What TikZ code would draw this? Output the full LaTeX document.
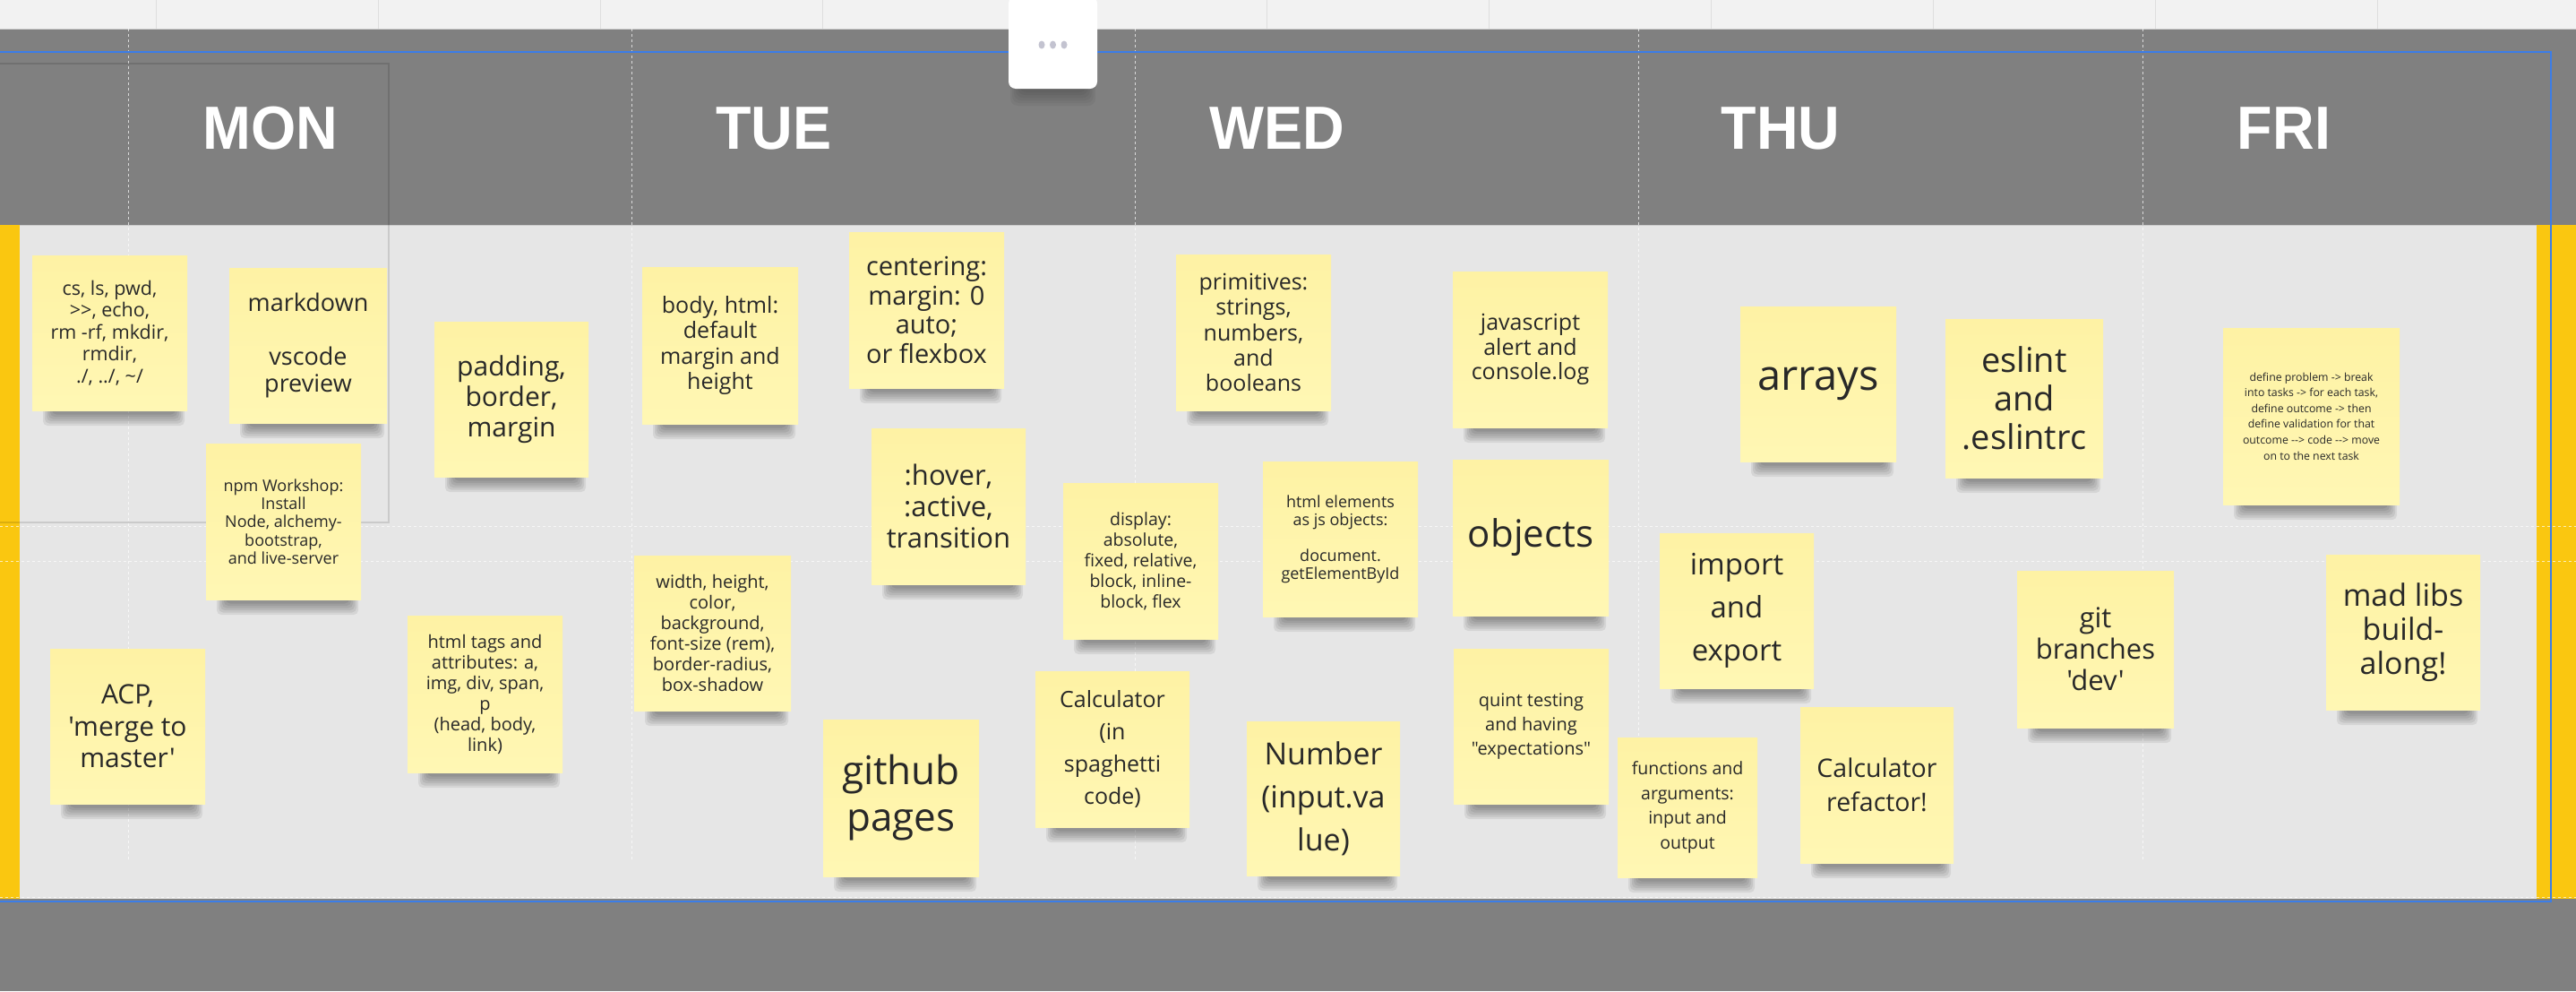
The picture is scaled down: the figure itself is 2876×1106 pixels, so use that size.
\documentclass[tikz,border=0pt]{standalone}
\usepackage{fontspec}
\setmainfont{Open Sans}
\newfontfamily\notefont{Open Sans}
\newfontfamily\dayfont[FakeStretch=0.95]{Liberation Sans}
\usetikzlibrary{calc}

\definecolor{headgray}{RGB}{128,128,128}
\definecolor{boardgray}{RGB}{230,230,230}
\definecolor{topgray}{RGB}{242,242,242}
\definecolor{gridgray}{RGB}{222,222,222}
\definecolor{edgegray}{RGB}{204,204,204}
\definecolor{laneyellow}{RGB}{250,199,16}
\definecolor{frameblue}{RGB}{59,125,232}
\definecolor{notefill}{RGB}{255,247,180}
\definecolor{notetop}{RGB}{254,242,164}
\definecolor{notetext}{RGB}{40,40,40}
\definecolor{dotgray}{RGB}{195,195,208}

\tikzstyle{sticky} = [rectangle, top color=notetop, bottom color=notefill,
    align=center, text=notetext, inner sep=4pt]
\tikzstyle{day} = [text=white, anchor=base,
    font=\dayfont\bfseries\fontsize{68}{68}\selectfont]
\tikzstyle{lane} = [white, dash pattern=on 3pt off 3pt, line width=0.8pt, opacity=0.7]

% name, left, top, width, height, font size, line skip, text
\newcommand{\stickynote}[8]{%
  \foreach \k in {0,...,5}
    \fill[black, opacity=0.07, rounded corners=5pt]
      (#2+12+2*\k,#3+#5-4) rectangle (#2+#4-3-2*\k,#3+#5+17-2.5*\k);
  \node[sticky, minimum width=#4pt, minimum height=#5pt,
    font=\notefont\fontsize{#6}{#7}\selectfont] (#1) at (#2+#4/2,#3+#5/2) {#8};
}

\begin{document}
\begin{tikzpicture}[x=1pt,y=-1pt]
    \useasboundingbox (0,0) rectangle (2876,1106);
    % Board
    \fill[topgray] (0,0) rectangle (2876,32);
    \foreach \x in {174,422,...,2654}
        \draw[gridgray, line width=1pt] (\x,0) -- (\x,32);
    \fill[headgray] (0,32) rectangle (2876,251);
    \fill[boardgray] (0,251) rectangle (2876,1003);
    \fill[headgray] (0,1003) rectangle (2876,1106);
    \draw[edgegray, line width=1pt] (0,32) -- (2876,32);
    \draw[edgegray, line width=1pt] (0,251) -- (2876,251);
    \fill[laneyellow] (0,251) rectangle (22,1003);
    \fill[laneyellow] (2832,251) rectangle (2876,1003);
    \foreach \x in {143,705,1267,1829,2392}
        \draw[lane] (\x,32) -- (\x,959);
    \foreach \y in {587,626,1001}
        \draw[lane] (0,\y) -- (2876,\y);
    \draw[black, opacity=0.12, line width=1.5pt] (-5,71) -| (434,583) -- (-5,583);
    \draw[frameblue, line width=2.2pt] (-5,58) -- (2848,58) -- (2848,1006) -- (-5,1006);

    % Day headers
    \node[day] (mon) at (302,166) {MON};
    \node[day] (tue) at (864,166) {TUE};
    \node[day] (wed) at (1426,166) {WED};
    \node[day] (thu) at (1988,166) {THU};
    \node[day] (fri) at (2550,166) {FRI};

    % Monday
    \stickynote{cmds}{36}{285}{173}{173}{21.5}{24.6}{cs, ls, pwd,\\>>, echo,\\rm -rf, mkdir,\\rmdir,\\./, ../, \textasciitilde/}
    \stickynote{markdown}{256}{299}{176}{173}{27}{30}{markdown\\[30pt]vscode\\preview}
    \stickynote{boxmodel}{485}{359}{172}{173}{30}{34}{padding,\\border,\\margin}
    \stickynote{npm}{230}{495}{173}{174}{18}{20.3}{npm Workshop:\\Install\\Node, alchemy-\\bootstrap,\\and live-server}
    \stickynote{acp}{56}{724}{173}{173}{30}{35.5}{ACP,\\'merge to\\master'}
    \stickynote{htmltags}{455}{687}{173}{175}{20}{23}{html tags and\\attributes: a,\\img, div, span,\\p\\(head, body,\\link)}
    % Tuesday
    \stickynote{bodyhtml}{717}{298}{174}{175}{25}{28.3}{body, html:\\default\\margin and\\height}
    \stickynote{centering}{948}{259}{173}{174}{29}{32.7}{centering:\\margin: 0\\auto;\\or flexbox}
    \stickynote{hover}{973}{478}{172}{174}{31}{35}{:hover,\\:active,\\transition}
    \stickynote{display}{1187}{539}{173}{174}{19.5}{23}{display:\\absolute,\\fixed, relative,\\block, inline-\\block, flex}
    \stickynote{props}{708}{620}{175}{173}{20}{23}{width, height,\\color,\\background,\\font-size (rem),\\border-radius,\\box-shadow}
    \stickynote{ghpages}{919}{803}{174}{175}{44}{52}{github\\pages}
    \stickynote{calcspag}{1156}{749}{172}{174}{25}{36}{Calculator\\(in\\spaghetti\\code)}
    % Wednesday
    \stickynote{primitives}{1313}{284}{173}{174}{25}{28.3}{primitives:\\strings,\\numbers,\\and\\booleans}
    \stickynote{jsalert}{1622}{303}{173}{174}{25}{27.5}{javascript\\alert and\\console.log}
    \stickynote{domobj}{1410}{515}{173}{173}{18}{20}{html elements\\as js objects:\\[20pt]document.\\getElementById}
    \stickynote{objects}{1622}{513}{174}{174}{42}{48}{objects}
    \stickynote{number}{1392}{805}{171}{172}{34}{48}{Number\\(input.va\\lue)}
    \stickynote{quint}{1623}{724}{173}{173}{20}{27}{quint testing\\and having\\"expectations"}
    % Thursday
    \stickynote{arrays}{1943}{342}{174}{173}{47}{52}{arrays}
    \stickynote{modules}{1853}{595}{172}{173}{33}{48}{import\\and\\export}
    \stickynote{functions}{1806}{823}{156}{156}{19.5}{27.5}{functions and\\arguments:\\input and\\output}
    \stickynote{calcref}{2010}{789}{171}{174}{28.5}{38}{Calculator\\refactor!}
    \stickynote{eslint}{2172}{356}{176}{177}{38}{43}{eslint\\and\\.eslintrc}
    \stickynote{gitdev}{2252}{637}{175}{175}{31}{35}{git\\branches\\'dev'}
    % Friday
    \stickynote{problem}{2482}{366}{197}{197}{12.3}{17.6}{define problem -> break\\into tasks -> for each task,\\define outcome -> then\\define validation for that\\outcome --> code --> move\\on to the next task}
    \stickynote{madlibs}{2597}{619}{172}{173}{34}{38}{mad libs\\build-\\along!}

    % Menu button
    \foreach \k in {0,...,5}
        \fill[black, opacity=0.04, rounded corners=8pt] (1128+2*\k,80) rectangle (1223-2*\k,118-3*\k);
    \node[fill=white, rounded corners=8pt, minimum width=99pt, minimum height=103pt,
        inner sep=0pt] (menu) at (1175.5,47.5) {};
    \foreach \x in {1163,1175.5,1188}
        \fill[dotgray] (\x,50) ellipse (3.5pt and 4.5pt);
\end{tikzpicture}
\end{document}
